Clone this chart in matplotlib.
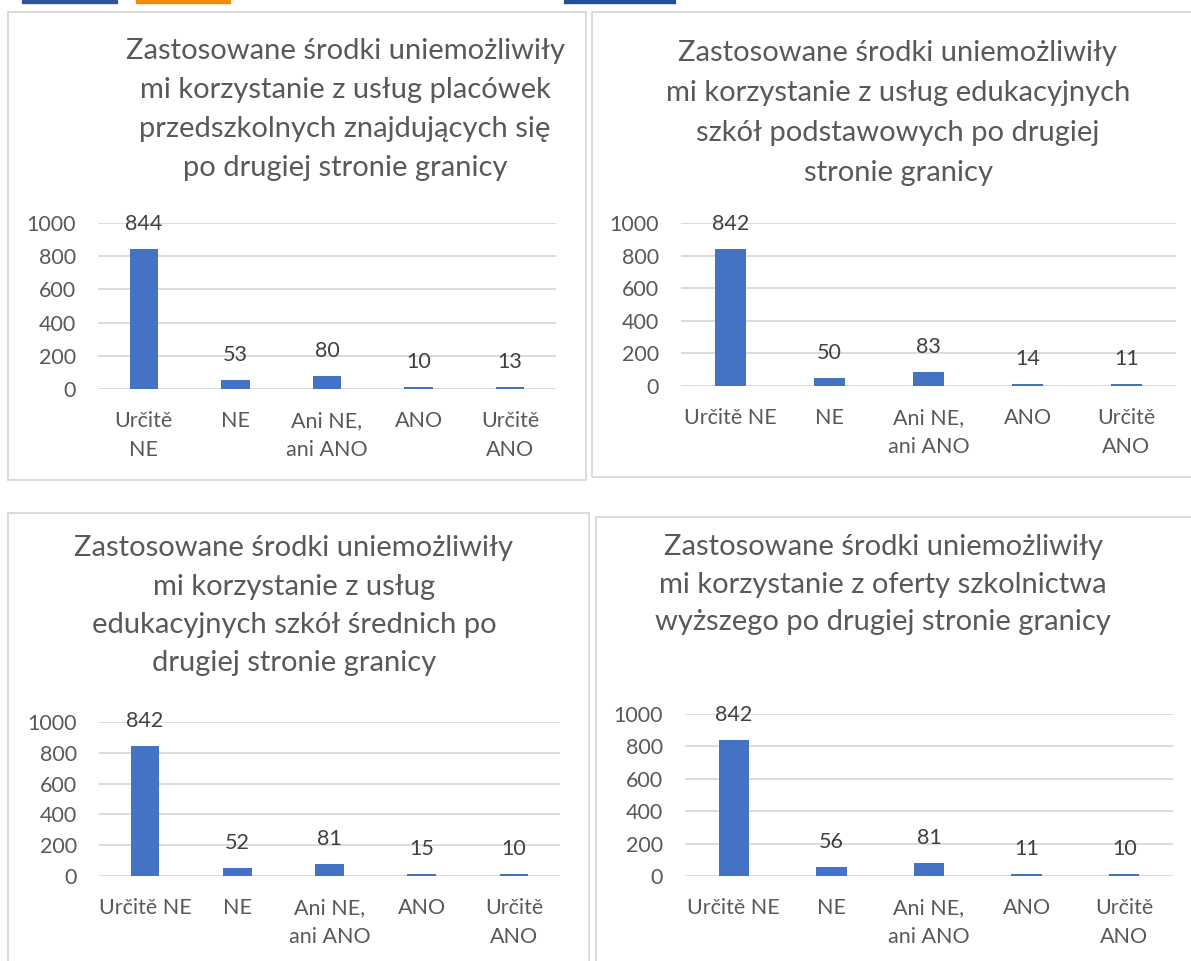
import numpy as np
import matplotlib
matplotlib.use('Agg')
import matplotlib.pyplot as plt
from matplotlib.patches import Rectangle

# answers, same order on every chart
cats_wrap = ['Určitě\nNE', 'NE', 'Ani NE,\nani ANO', 'ANO', 'Určitě\nANO']
cats = ['Určitě NE', 'NE', 'Ani NE,\nani ANO', 'ANO', 'Určitě\nANO']

przedszkola = [844, 53, 80, 10, 13]
podstawowe = [842, 50, 83, 14, 11]
srednie = [842, 52, 81, 15, 10]
wyzsze = [842, 56, 81, 11, 10]

title_tl = ['Zastosowane środki uniemożliwiły', 'mi korzystanie z usług placówek',
            'przedszkolnych znajdujących się', 'po drugiej stronie granicy']
title_tr = ['Zastosowane środki uniemożliwiły', 'mi korzystanie z usług edukacyjnych',
            'szkół podstawowych po drugiej', 'stronie granicy']
title_bl = ['Zastosowane środki uniemożliwiły', 'mi korzystanie z usług',
            'edukacyjnych szkół średnich po', 'drugiej stronie granicy']
title_br = ['Zastosowane środki uniemożliwiły', 'mi korzystanie z oferty szkolnictwa',
            'wyższego po drugiej stronie granicy']

plt.rcParams['font.family'] = ['Lato', 'DejaVu Sans']

W, H = 1191, 961
BAR = '#4472C4'
GRID = '#D9D9D9'
TXT = '#595959'

fig = plt.figure(figsize=(W / 100, H / 100), dpi=100)


def fx(x):
    return x / W


def fy(y):
    return 1 - y / H


def box(x0, y0, x1, y1):
    fig.patches.append(Rectangle((fx(x0), fy(y1)), (x1 - x0) / W, (y1 - y0) / H,
                                 transform=fig.transFigure, fill=False,
                                 edgecolor=GRID, lw=1.3))


def panel(vals, labels, title, plot, tx, ty, tstep, tsize):
    x0, y0, x1, y1 = plot
    ax = fig.add_axes([fx(x0), fy(y1), (x1 - x0) / W, (y1 - y0) / H])
    x = np.arange(len(vals))
    bars = ax.bar(x, vals, width=0.31, color=BAR, zorder=3)
    ax.set_xlim(-0.5, len(vals) - 0.5)
    ax.set_ylim(0, 1000)
    ax.set_yticks(np.arange(0, 1001, 200))
    ax.set_xticks(x)
    ax.set_xticklabels(labels, linespacing=1.55)
    ax.tick_params(axis='both', length=0, labelsize=15.5, labelcolor=TXT)
    ax.tick_params(axis='x', pad=16)
    ax.tick_params(axis='y', pad=16)
    ax.yaxis.grid(True, color=GRID, lw=1.3, zorder=0)
    ax.set_axisbelow(True)
    for s in ax.spines.values():
        s.set_visible(False)
    ax.set_facecolor('none')
    for b, v in zip(bars, vals):
        ax.annotate(str(v), (b.get_x() + b.get_width() / 2, v),
                    xytext=(0, 18), textcoords='offset points',
                    ha='center', va='center', fontsize=15.5, color='#404040')
    for i, line in enumerate(title):
        fig.text(fx(tx), fy(ty + i * tstep), line, ha='center', va='center',
                 fontsize=tsize, color=TXT)
    return ax


# panel frames
box(8, 12, 586, 480)
box(592, 12, 1195, 477)
box(8, 513, 589, 965)
box(596, 517, 1195, 965)

# bits of the page header cut off at the top
for xa, xb, c in [(22, 117, '#2F5597'), (136, 230, '#F08A00'), (564, 675, '#1F4E99')]:
    fig.patches.append(Rectangle((fx(xa), fy(3)), (xb - xa) / W, 3 / H,
                                 transform=fig.transFigure, color=c))

panel(przedszkola, cats_wrap, title_tl, (98, 223, 556, 389), 345, 51, 39, 21)
panel(podstawowe, cats, title_tr, (681, 223, 1176, 386), 898, 53, 40, 21)
panel(srednie, cats, title_bl, (99, 722, 560, 876), 294, 548, 38.5, 21)
panel(wyzsze, cats, title_br, (685, 714, 1173, 876), 883, 547, 37.5, 21)

fig.savefig('out.png', dpi=100, facecolor='white')
